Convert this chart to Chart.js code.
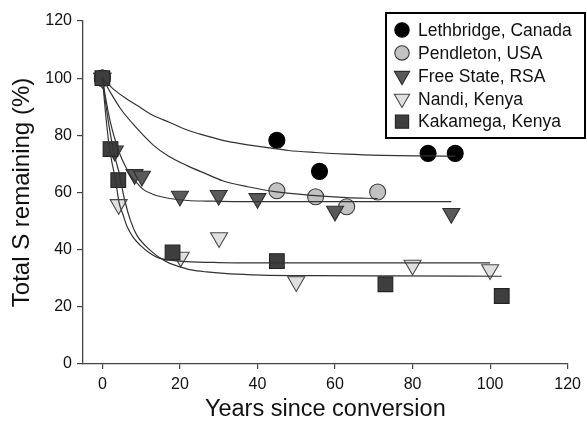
<!DOCTYPE html>
<html>
<head>
<meta charset="utf-8">
<script src="https://cdn.jsdelivr.net/npm/chart.js@4.4.1/dist/chart.umd.min.js"></script>
<style>
  html, body { margin: 0; padding: 0; background: #fff; }
  #chart { display: block; }
</style>
</head>
<body>
<canvas id="chart" width="587" height="421"></canvas>
<script>
// sites, in legend order
const sites = ["Lethbridge, Canada", "Pendleton, USA", "Free State, RSA", "Nandi, Kenya", "Kakamega, Kenya"];

// measured total S remaining (%) vs years since conversion
const lethYears = [0, 45, 56, 84, 91];
const lethS     = [100, 78.3, 67.4, 73.7, 73.7];
const pendYears = [0, 45, 55, 63, 71];
const pendS     = [100, 60.6, 58.5, 55.0, 60.2];
const fsYears   = [0, 3.2, 8.3, 10.2, 20, 30, 40, 60, 90];
const fsS       = [100, 74.5, 66.3, 65.7, 58.7, 59.0, 57.9, 53.5, 52.7];
const nandiYears = [0, 4.2, 20.2, 30.1, 50, 80, 100];
const nandiS     = [100, 55.8, 37.4, 44.2, 28.8, 34.6, 33.0];
const kakaYears = [0, 2.1, 4.1, 18.1, 45, 73, 103];
const kakaS     = [100, 75.2, 64.3, 39.0, 36.0, 27.9, 23.8];

// fitted curves
const lethFitX = [0, 3, 6, 9, 13, 17.4, 21, 25, 29, 33, 38, 43.5, 48, 55, 63, 72, 82, 91];
const lethFitY = [100, 96, 93, 90.4, 87, 84.5, 82.3, 80.5, 79, 77.7, 76.6, 75.5, 74.7, 74, 73.4, 73, 72.8, 72.7];
const pendFitX = [0, 2, 4.7, 8, 13.2, 17, 21.7, 26.8, 31, 37.5, 45, 54, 63, 71];
const pendFitY = [100, 95.2, 89.3, 83.8, 76.5, 72.8, 69.5, 66.5, 64.1, 62, 60.2, 59, 58.2, 57.9];
const fsFitX = [0, 1, 2, 3, 4.5, 6, 7.2, 9, 10.6, 13, 17.4, 22, 27, 35, 45, 60, 75, 90];
const fsFitY = [100, 91.8, 85, 79.7, 73.5, 69, 66, 63.2, 61, 59.4, 57.9, 57.2, 57, 56.8, 56.8, 56.8, 56.8, 56.8];
const nandiFitX = [0, 0.8, 1.7, 2.4, 3, 3.7, 4.3, 5.3, 6.4, 8, 9.8, 12, 14, 17, 21.7, 30, 45, 65, 100];
const nandiFitY = [100, 88, 76.8, 71, 67, 61.5, 56.5, 52.3, 48, 44.2, 41.5, 39, 37.4, 36.4, 35.8, 35.5, 35.4, 35.4, 35.4];
const kakaFitX = [0, 1.3, 2.6, 3.5, 4.3, 5.1, 5.9, 7.3, 8.9, 11, 13.2, 15, 17.4, 20, 23, 26.8, 33, 41, 55, 75, 103];
const kakaFitY = [100, 87, 76.5, 71, 67, 61.5, 56.5, 50, 45, 41.5, 38.8, 37, 35.2, 34, 32.9, 32.2, 31.5, 31.1, 30.9, 30.8, 30.7];

const xTicks = [0, 20, 40, 60, 80, 100, 120];
const yTicks = [0, 20, 40, 60, 80, 100, 120];

const measured = [[lethYears, lethS], [pendYears, pendS], [fsYears, fsS], [nandiYears, nandiS], [kakaYears, kakaS]];
const fits = [[lethFitX, lethFitY], [pendFitX, pendFitY], [fsFitX, fsFitY], [nandiFitX, nandiFitY], [kakaFitX, kakaFitY]];

// marker look per site
const markerStyle = [
  { pointStyle: 'circle',   rotation: 0,   radius: 8,    fill: '#000000', border: '#000000' },
  { pointStyle: 'circle',   rotation: 0,   radius: 8,    fill: '#c2c2c2', border: '#3a3a3a' },
  { pointStyle: 'triangle', rotation: 180, radius: 9.8,  fill: '#5a5a5a', border: '#2e2e2e' },
  { pointStyle: 'triangle', rotation: 180, radius: 9.8,  fill: '#e0e0e0', border: '#4a4a4a' },
  { pointStyle: 'rect',     rotation: 0,   radius: 10.4, fill: '#3e3e3e', border: '#222222' }
];

const FONT = "'Liberation Sans', Arial, Helvetica, sans-serif";

const toPts = (xs, ys) => xs.map((x, i) => ({ x: x, y: ys[i] }));

const datasets = [];
fits.forEach(([xs, ys], i) => {
  datasets.push({
    label: sites[i] + ' fit',
    data: toPts(xs, ys),
    showLine: true,
    cubicInterpolationMode: 'monotone',
    borderColor: '#333333',
    borderWidth: 1.2,
    pointRadius: 0,
    order: 0
  });
});
measured.forEach(([xs, ys], i) => {
  const st = markerStyle[i];
  datasets.push({
    label: sites[i],
    data: toPts(xs, ys),
    showLine: false,
    pointStyle: st.pointStyle,
    rotation: st.rotation,
    pointRadius: st.radius,
    pointBackgroundColor: st.fill,
    pointBorderColor: st.border,
    pointBorderWidth: 1.1,
    order: 5 - i   // Kakamega on top, Lethbridge at the bottom
  });
});

// boxed legend drawn inside the plot, top right
const boxLegend = {
  id: 'boxLegend',
  afterDraw(chart) {
    const ctx = chart.ctx;
    const left = 386, top = 13, w = 199, h = 125;
    ctx.save();
    ctx.fillStyle = '#ffffff';
    ctx.fillRect(left, top, w, h);
    ctx.lineWidth = 2;
    ctx.strokeStyle = '#000000';
    ctx.strokeRect(left, top, w, h);
    ctx.font = '17.5px ' + FONT;
    ctx.textBaseline = 'middle';
    ctx.textAlign = 'left';
    sites.forEach((name, i) => {
      const st = markerStyle[i];
      const cy = top + 17 + i * 22.9;
      ctx.fillStyle = st.fill;
      ctx.strokeStyle = st.border;
      ctx.lineWidth = 1.1;
      Chart.helpers.drawPoint(ctx, {
        pointStyle: st.pointStyle,
        rotation: st.rotation,
        radius: st.radius * 0.9,
        borderWidth: 1.1
      }, left + 16, cy);
      ctx.fillStyle = '#111111';
      ctx.fillText(name, left + 32, cy + 1);
    });
    ctx.restore();
  }
};

new Chart(document.getElementById('chart'), {
  type: 'scatter',
  data: { datasets: datasets },
  options: {
    responsive: false,
    animation: false,
    layout: { padding: { top: 21, right: 14, bottom: 0, left: 0 } },
    plugins: {
      legend: { display: false },
      tooltip: { enabled: false }
    },
    scales: {
      x: {
        type: 'linear',
        min: -5,
        max: 120,
        afterBuildTicks: s => { s.ticks = xTicks.map(v => ({ value: v })); },
        afterFit: s => { s.height = 57; },
        grid: { drawOnChartArea: false, drawTicks: true, tickLength: 5, color: '#444444', lineWidth: 1.2 },
        border: { display: true, color: '#444444', width: 1.3 },
        ticks: { font: { family: FONT, size: 16 }, color: '#111111', padding: 6, maxRotation: 0 },
        title: {
          display: true,
          text: 'Years since conversion',
          font: { family: FONT, size: 23.5, lineHeight: 1 },
          color: '#111111',
          padding: { top: 0, bottom: 0 }
        }
      },
      y: {
        type: 'linear',
        min: 0,
        max: 120,
        afterBuildTicks: s => { s.ticks = yTicks.map(v => ({ value: v })); },
        afterFit: s => { s.width = 83; },
        grid: { drawOnChartArea: false, drawTicks: true, tickLength: 6, color: '#444444', lineWidth: 1.2 },
        border: { display: true, color: '#444444', width: 1.3 },
        ticks: { font: { family: FONT, size: 16 }, color: '#111111', padding: 5 },
        title: {
          display: true,
          text: 'Total S remaining (%)',
          font: { family: FONT, size: 24, lineHeight: 1 },
          color: '#111111',
          padding: { top: 10, bottom: 0 }
        }
      }
    }
  },
  plugins: [boxLegend]
});
</script>
</body>
</html>
